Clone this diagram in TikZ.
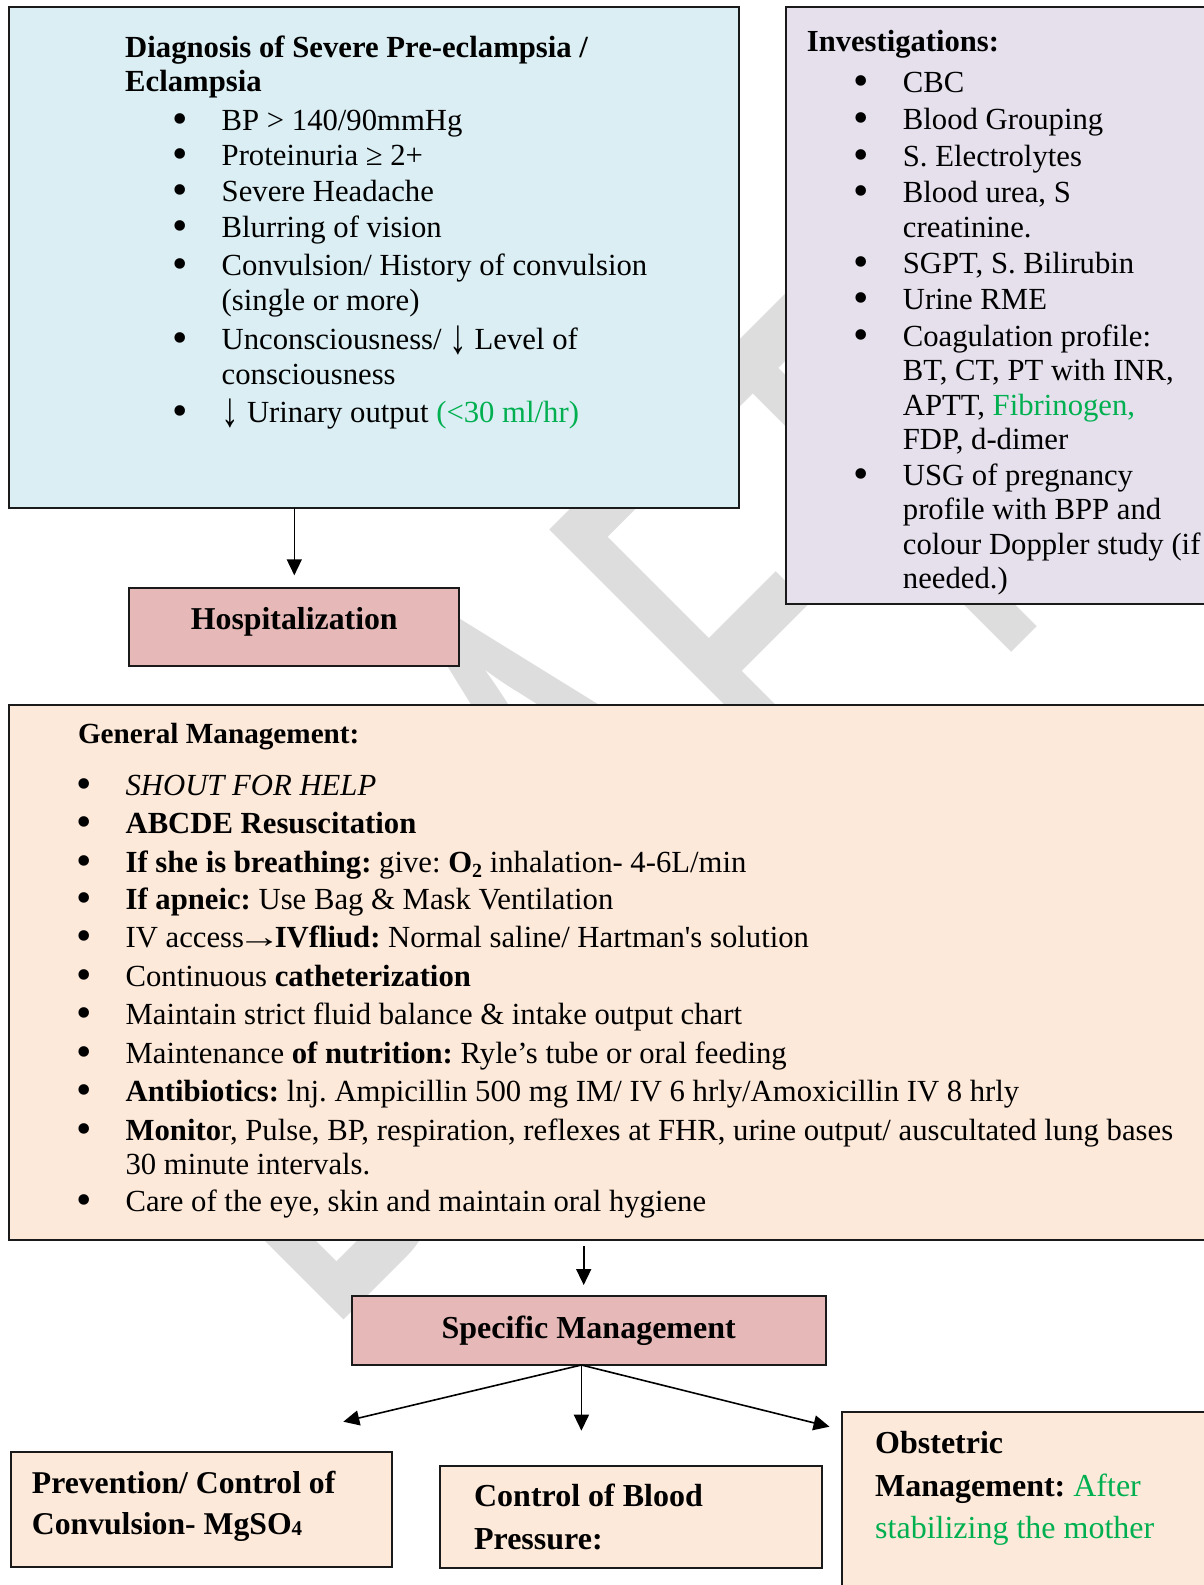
\documentclass[tikz,border=0pt]{standalone}
\usepackage{graphicx}
\usepackage{fontspec}
\setmainfont{Liberation Serif}[Ligatures=TeXOff]
\newfontfamily\wmfont{Carlito}
\usetikzlibrary{arrows.meta}

\definecolor{diagfill}{HTML}{DAEEF3}
\definecolor{invfill}{HTML}{E5E0EC}
\definecolor{rosefill}{HTML}{E6B9B8}
\definecolor{peachfill}{HTML}{FDE9D9}
\definecolor{okgreen}{HTML}{00B050}
\definecolor{wmgray}{HTML}{DDDDDD}
\definecolor{edge}{HTML}{1A1A1A}

\newcommand{\fs}[2]{\fontsize{#1}{#2}\selectfont}
% list bullet hanging to the left of the item text
\newcommand{\bul}{\llap{\raisebox{-3pt}{\fs{44}{44}\textbullet}\hspace{33.8pt}}}
\newcommand{\lowfig}[1]{\raisebox{-5pt}{\fs{20}{20}#1}}
% tall down arrow and long right arrow
\newcommand{\dnar}{\raisebox{-4pt}{\scalebox{1.15}[1.6]{↓}}}
\newcommand{\rtar}{\makebox[30.7pt][c]{\scalebox{1.43}[1]{→}}}

\begin{document}
\frenchspacing
\begin{tikzpicture}[x=1pt,y=-1pt,
  box/.style={draw=edge, line width=2pt, inner sep=0pt, outer sep=0pt, anchor=north west},
  txt/.style={anchor=base west, inner sep=0pt, font=\fs{30.7}{34.5}},
  ctr/.style={anchor=base, inner sep=0pt, font=\bfseries\fs{32}{36}},
  arr/.style={-{Triangle[length=16pt,width=15pt]}, line width=1.6pt, draw=black},
]
\useasboundingbox (0,0) rectangle (1204,1585);
\clip (0,0) rectangle (1204,1585);
\fill[white] (0,0) rectangle (1204,1585);

% background watermark
\begin{scope}[shift={(324.4,1339.6)}, rotate=45, xscale=0.63, transform shape]
  \node[anchor=base west, inner sep=0pt, text=wmgray, font=\wmfont\fs{644}{644}] (wmark) at (0,0) {DRAFT};
\end{scope}

% boxes
\node[box, fill=diagfill, minimum width=730.5pt, minimum height=500.7pt] (diag) at (8.5,7.3) {};
\node[box, fill=invfill, minimum width=440pt, minimum height=597pt] (inv) at (786,6.5) {};
\node[box, fill=rosefill, minimum width=329.8pt, minimum height=77.7pt] (hosp) at (129.4,588.3) {};
\node[box, fill=peachfill, minimum width=1210pt, minimum height=535pt] (gm) at (8.5,705) {};
\node[box, fill=rosefill, minimum width=473.8pt, minimum height=69.3pt] (sm) at (351.8,1295.7) {};
\node[box, fill=peachfill, minimum width=380.9pt, minimum height=115pt] (prev) at (10.8,1451.7) {};
\node[box, fill=peachfill, minimum width=381.8pt, minimum height=102.6pt] (bp) at (440,1465.7) {};
\node[box, fill=peachfill, minimum width=380pt, minimum height=190pt] (obst) at (841.7,1411.7) {};

% diagnosis
\node[txt, font=\bfseries\fs{30.7}{33.8}] (dtitle) at (125,57.5) {\parbox[t]{560pt}{Diagnosis of Severe Pre-eclampsia /\\Eclampsia}};
\node[txt] (d1) at (221.5,130) {\bul BP > 140/90mmHg};
\node[txt] (d2) at (221.5,165.8) {\bul Proteinuria ≥ 2+};
\node[txt] (d3) at (221.5,201.3) {\bul Severe Headache};
\node[txt] (d4) at (221.5,237.6) {\bul Blurring of vision};
\node[txt] (d5) at (221.5,275.8) {\bul\parbox[t]{500pt}{Convulsion/ History of convulsion\\(single or more)}};
\node[txt] (d6) at (221.5,349.5) {\bul\parbox[t]{500pt}{Unconsciousness/ \dnar\ Level of\\consciousness}};
\node[txt] (d7) at (221.5,422.4) {\bul\dnar\ Urinary output \textcolor{okgreen}{(<30 ml/hr)}};

% investigations
\node[txt, font=\bfseries\fs{30.6}{34}] (ititle) at (806.7,51) {Investigations:};
\node[txt] (i1) at (902.7,92) {\bul CBC};
\node[txt] (i2) at (902.7,129.8) {\bul Blood Grouping};
\node[txt] (i3) at (902.7,166.6) {\bul S. Electrolytes};
\node[txt] (i4) at (902.7,202.9) {\bul\parbox[t]{300pt}{Blood urea, S\\creatinine.}};
\node[txt] (i5) at (902.7,273.2) {\bul SGPT, S. Bilirubin};
\node[txt] (i6) at (902.7,309.3) {\bul Urine RME};
\node[txt] (i7) at (902.7,346.3) {\bul\parbox[t]{300pt}{Coagulation profile:\\BT, CT, PT with INR,\\APTT, \textcolor{okgreen}{Fibrinogen,}\\FDP, d-dimer}};
\node[txt, font=\fs{30.7}{34.5}] (i8) at (902.7,485.1) {\bul\parbox[t]{300pt}{USG of pregnancy\\profile with BPP and\\colour Doppler study (if\\needed.)}};

% hospitalization
\node[ctr, font=\bfseries\fs{31.8}{36}] (hosptxt) at (294.3,629.3) {Hospitalization};

% general management
\node[txt, font=\bfseries\fs{29.2}{34}] (gtitle) at (77.8,743.8) {General Management:};
\node[txt] (g1) at (125.4,795.6) {\bul\textit{SHOUT FOR HELP}};
\node[txt] (g2) at (125.4,833) {\bul\textbf{ABCDE Resuscitation}};
\node[txt] (g3) at (125.4,872.4) {\bul\textbf{If she is breathing:} give: \textbf{O\lowfig{2}} inhalation- 4-6L/min};
\node[txt] (g4) at (125.4,909.9) {\bul\textbf{If apneic:} Use Bag \& Mask Ventilation};
\node[txt] (g5) at (125.4,947.4) {\bul IV access\rtar\textbf{IVfliud:} Normal saline/ Hartman's solution};
\node[txt] (g6) at (125.4,986.6) {\bul Continuous \textbf{catheterization}};
\node[txt] (g7) at (125.4,1024) {\bul Maintain strict fluid balance \& intake output chart};
\node[txt] (g8) at (125.4,1063.4) {\bul Maintenance \textbf{of nutrition:} Ryle’s tube or oral feeding};
\node[txt] (g9) at (125.4,1101) {\bul\textbf{Antibiotics:} lnj. Ampicillin 500 mg IM/ IV 6 hrly/Amoxicillin IV 8 hrly};
\node[txt] (g10) at (125.4,1140.2) {\bul\parbox[t]{1070pt}{\textbf{Monito}r, Pulse, BP, respiration, reflexes at FHR, urine output/ auscultated lung bases\\30 minute intervals.}};
\node[txt] (g11) at (125.4,1211.6) {\bul Care of the eye, skin and maintain oral hygiene};

% specific management and its branches
\node[ctr] (smtxt) at (588.7,1338.7) {Specific Management};
\node[txt, font=\bfseries\fs{31.7}{41.5}] (prevtxt) at (31.7,1493) {\parbox[t]{350pt}{Prevention/ Control of\\Convulsion- MgSO\raisebox{-1pt}{\fs{21}{21}4}}};
\node[txt, font=\bfseries\fs{32}{42.5}] (bptxt) at (473.9,1506.5) {\parbox[t]{330pt}{Control of Blood\\Pressure:}};
\node[txt, font=\fs{32}{42.5}] (obsttxt) at (875,1453.7) {\parbox[t]{320pt}{\textbf{Obstetric}\\\textbf{Management:} \textcolor{okgreen}{After}\\\textcolor{okgreen}{stabilizing the mother}}};

% connectors
\draw[arr, shorten >=13pt] (diag.south -| hosp.north) -- (hosp.north);
\coordinate (smtop) at ([xshift=-5pt]sm.north);
\draw[arr, shorten <=6pt, shorten >=10.7pt] (gm.south -| smtop) -- (smtop);
\coordinate (smbot) at ([xshift=-7.3pt]sm.south);
\coordinate (tipL) at (343.3,1421.7);
\coordinate (tipM) at (581.4,1430.7);
\coordinate (tipR) at (829.5,1426.7);
\draw[arr] (smbot) -- (tipL);
\draw[arr] (smbot) -- (tipM);
\draw[arr] (smbot) -- (tipR);
\end{tikzpicture}
\end{document}
